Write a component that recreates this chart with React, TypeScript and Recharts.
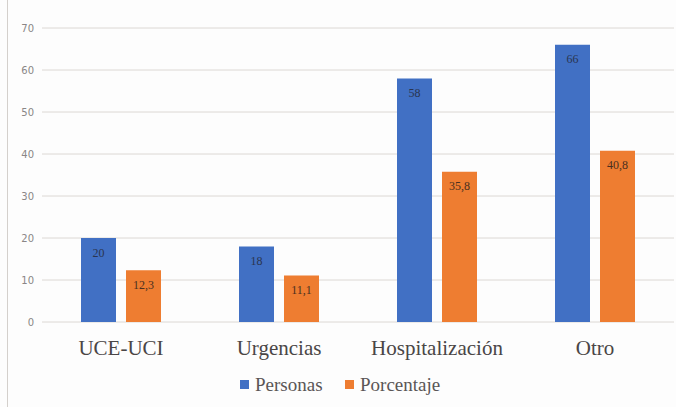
import React from 'react';
import { BarChart, Bar, XAxis, YAxis, CartesianGrid, Legend, LabelList } from 'recharts';

const categories = ['UCE-UCI', 'Urgencias', 'Hospitalización', 'Otro'];
const personas = [20, 18, 58, 66];
const porcentaje = [12.3, 11.1, 35.8, 40.8];
const yTicks = [0, 10, 20, 30, 40, 50, 60, 70];

const data = categories.map((name, i) => ({
    name,
    personas: personas[i],
    porcentaje: porcentaje[i]
}));

const serif = '"Liberation Serif", serif';

// decimal comma like the original
const fmt = (v: any) => String(v).replace('.', ',');

// legend as svg text, placed under the middle of the chart
const legendX = [240, 345];
const LegendContent = ({ payload }: any) => (
    <svg width={676} height={24} style={{ display: 'block' }}>
        {(payload || []).map((p: any, i: number) => (
            <g key={p.value}>
                <rect x={legendX[i]} y={7} width={9} height={9} fill={p.color} />
                <text x={legendX[i] + 15} y={18} fontFamily={serif} fontSize={19} fill="#5a5656">{p.value}</text>
            </g>
        ))}
    </svg>
);

export default function App() {
    return (
        <div style={{ position: 'absolute', left: 0, top: 0, width: 676, height: 407, background: '#fdfdfd' }}>
            <div style={{ position: 'absolute', left: 7, top: 0, width: 1, height: 407, background: '#d4d0cc' }} />
            <BarChart
                width={676}
                height={407}
                data={data}
                margin={{ top: 28, right: 2, bottom: 0, left: 2 }}
                barSize={35}
                barGap={10}
            >
                <CartesianGrid vertical={false} stroke="#dcd8d4" />
                <XAxis
                    dataKey="name"
                    axisLine={false}
                    tickLine={false}
                    height={45}
                    tickMargin={12}
                    tick={{ fill: '#4a4646', fontSize: 21, fontFamily: serif }}
                />
                <YAxis
                    domain={[0, 70]}
                    ticks={yTicks}
                    width={40}
                    axisLine={false}
                    tickLine={false}
                    tickSize={0}
                    tickMargin={8}
                    tick={{ fill: '#8a8686', fontSize: 10, fontFamily: '"DejaVu Sans", sans-serif' }}
                />
                <Legend
                    verticalAlign="bottom"
                    height={40}
                    content={<LegendContent />}
                    wrapperStyle={{ bottom: -6, left: 0 }}
                />
                <Bar dataKey="personas" name="Personas" fill="#4170c4" isAnimationActive={false}>
                    <LabelList dataKey="personas" position="insideTop" offset={10} fill="#2a3550" fontSize={12} formatter={fmt} />
                </Bar>
                <Bar dataKey="porcentaje" name="Porcentaje" fill="#ee7d31" isAnimationActive={false}>
                    <LabelList dataKey="porcentaje" position="insideTop" offset={10} fill="#4a3020" fontSize={12} formatter={fmt} />
                </Bar>
            </BarChart>
        </div>
    );
}
